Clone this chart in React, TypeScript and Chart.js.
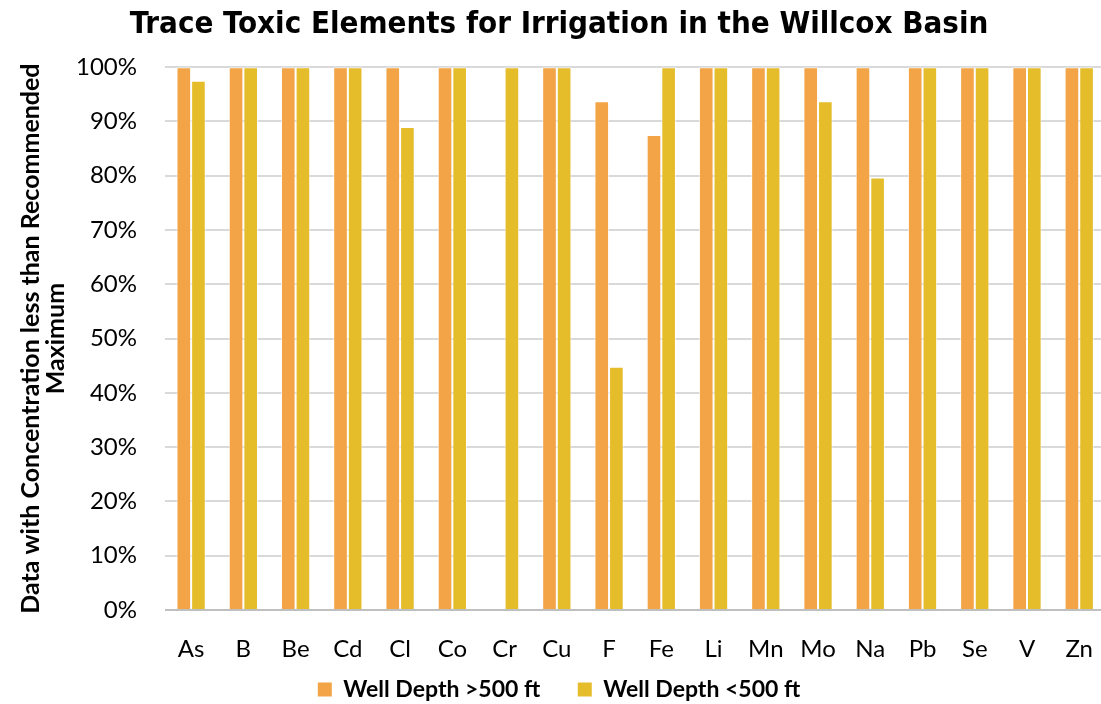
import React, { useEffect, useRef } from "react";
import { Chart, registerables } from "chart.js";

Chart.register(...registerables);

const categories = ["As", "B", "Be", "Cd", "Cl", "Co", "Cr", "Cu", "F", "Fe", "Li", "Mn", "Mo", "Na", "Pb", "Se", "V", "Zn"];
const deepWells = [100, 100, 100, 100, 100, 100, 0, 100, 93.75, 87.5, 100, 100, 100, 100, 100, 100, 100, 100];
const shallowWells = [97.5, 100, 100, 100, 89, 100, 100, 100, 44.8, 100, 100, 100, 93.75, 79.7, 100, 100, 100, 100];
const seriesNames = ["Well Depth >500 ft", "Well Depth <500 ft"];
const seriesColors = ["#F2A446", "#E5BD2A"];
const yTicks = [0, 10, 20, 30, 40, 50, 60, 70, 80, 90, 100];
const titleText = "Trace Toxic Elements for Irrigation in the Willcox Basin";
const yTitle = ["Data with Concentration less than Recommended", "Maximum"];

export default function App() {
  const ref = useRef<HTMLCanvasElement>(null);
  useEffect(() => {
    if (!ref.current) return;
    const chart = new Chart(ref.current, {
      type: "bar",
      data: {
        labels: categories,
        datasets: [
          { label: seriesNames[0], data: deepWells, backgroundColor: seriesColors[0], borderColor: "rgba(255,255,255,0.7)", borderWidth: 1 },
          { label: seriesNames[1], data: shallowWells, backgroundColor: seriesColors[1], borderColor: "rgba(255,255,255,0.7)", borderWidth: 1 },
        ],
      },
      options: {
        responsive: false,
        animation: false,
        layout: { padding: { left: 8, right: 0, top: 0, bottom: -7 } },
        datasets: { bar: { categoryPercentage: 0.56, barPercentage: 1 } },
        plugins: {
          title: {
            display: true,
            text: titleText,
            color: "#000",
            font: { family: "'Liberation Sans Narrow', 'DejaVu Sans Condensed', Lato, sans-serif", size: 31, weight: "bold" },
            padding: { top: 6, bottom: 24 },
          },
          legend: {
            position: "bottom",
            labels: {
              color: "#000",
              font: { family: "Lato, sans-serif", size: 23, weight: "bold" },
              boxWidth: 14,
              boxHeight: 14,
              padding: 4,
              generateLabels: (c: any) => {
                const items = Chart.defaults.plugins.legend.labels.generateLabels(c);
                return items.map((it: any, i: number) => ({
                  ...it,
                  lineWidth: 0,
                  text: i < items.length - 1 ? it.text + "      " : it.text,
                }));
              },
            },
          },
          tooltip: { enabled: false },
        },
        scales: {
          x: {
            grid: { display: false },
            border: { color: "#BFBFBF", width: 1 },
            ticks: { color: "#000", font: { family: "Lato, sans-serif", size: 24 }, padding: 17, maxRotation: 0 },
            afterFit: (scale: any) => {
              scale.height = 64;
            },
          },
          y: {
            min: 0,
            max: 100,
            afterBuildTicks: (axis: any) => {
              axis.ticks = yTicks.map((v) => ({ value: v }));
            },
            afterFit: (scale: any) => {
              scale.width = 157;
            },
            grid: { color: (ctx: any) => (ctx.tick && ctx.tick.value === 0 ? "#BFBFBF" : "#D9D9D9"), lineWidth: 2, drawTicks: false },
            border: { display: false },
            ticks: { color: "#000", font: { family: "Lato, sans-serif", size: 24 }, padding: 28, callback: (v: any) => v + "%" },
            title: {
              display: true,
              text: yTitle,
              color: "#000",
              font: { family: "Lato, sans-serif", size: 25, weight: "bold", lineHeight: 1 },
              padding: { top: 10, bottom: 10 },
            },
          },
        },
      },
    });
    return () => chart.destroy();
  }, []);
  return (
    <div style={{ position: "absolute", left: 0, top: 0, width: 1101, height: 704, overflow: "hidden", background: "#fff" }}>
      <canvas ref={ref} width={1110} height={704} style={{ display: "block" }} />
    </div>
  );
}
